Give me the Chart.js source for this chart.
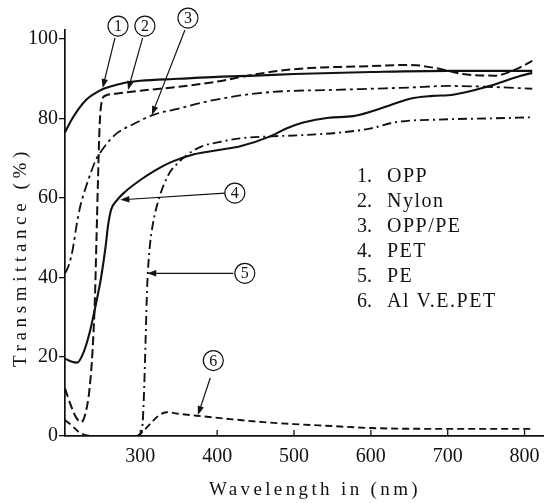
<!DOCTYPE html>
<html>
<head>
<meta charset="utf-8">
<script src="https://cdn.jsdelivr.net/npm/chart.js@4.4.1/dist/chart.umd.min.js"></script>
<style>
  html, body { margin: 0; padding: 0; background: #fff; }
  #wrap { width: 553px; height: 503px; position: relative; }
</style>
</head>
<body>
<div id="wrap"><canvas id="chart"></canvas></div>
<script>
// tick values
const xTicks = [300, 400, 500, 600, 700, 800];
const yTicks = [0, 20, 40, 60, 80, 100];

// 1. OPP
const oppNm = [202, 210, 220, 230, 240, 250, 260, 280, 300, 350, 400, 450, 500, 600, 700, 810];
const oppT = [76.5, 79.5, 82.5, 84.8, 86.2, 87.3, 88, 89, 89.5, 90, 90.5, 90.8, 91.2, 91.7, 92, 92];

// 2. Nylon
const nylonNm = [202, 210, 217, 223, 229, 234, 238, 241, 243, 245, 247, 250, 255, 270, 300, 350, 400, 440, 480, 520, 560, 600, 650, 690, 720, 760, 790, 810];
const nylonT = [12, 7.5, 4.5, 3.5, 6, 12, 22, 35, 50, 65, 78, 84.5, 85.8, 86.3, 87, 88, 89.3, 90.8, 92, 92.7, 93, 93.2, 93.5, 92.5, 91.2, 90.8, 92.5, 94.5];

// 3. OPP/PE
const oppPeNm = [202, 207, 212, 217, 222, 228, 235, 242, 250, 260, 271, 290, 318, 350, 380, 430, 480, 550, 600, 650, 700, 750, 810];
const oppPeT = [41, 43, 47, 53, 58, 62, 66, 69.5, 72, 74.5, 76.5, 78.5, 81, 82.5, 84, 85.8, 86.8, 87.2, 87.5, 87.8, 88.2, 88, 87.5];

// 4. PET
const petNm = [202, 210, 218, 226, 234, 242, 249, 255, 258, 262, 270, 280, 300, 320, 340, 370, 400, 430, 469, 490, 512, 545, 577, 620, 651, 680, 707, 751, 794, 810];
const petT = [19.5, 18.8, 18.5, 21, 26, 33, 40, 48, 53, 57, 59.5, 61.5, 64.5, 67, 69, 71, 72, 73, 75.5, 77.5, 79, 80.2, 80.6, 83, 85, 85.7, 86, 88, 90.7, 91.5];

// 5. PE
const peNm = [295, 300, 303, 305, 307, 309, 312, 316, 323, 336, 350, 362, 380, 401, 430, 470, 510, 557, 600, 630, 700, 750, 810];
const peT = [0, 0.5, 3, 12, 25, 38, 47, 53, 59, 65.6, 69, 71, 73, 74, 75, 75.5, 75.8, 76.4, 77.5, 79, 79.8, 80, 80.3];

// 6. Al V.E. PET
const alNm = [202, 210, 220, 228, 240, 295, 305, 315, 325, 334, 350, 379, 420, 460, 500, 550, 600, 700, 810];
const alT = [4, 2.8, 1, 0.3, 0, 0, 1.5, 3.5, 5.3, 6, 5.6, 5, 4.2, 3.5, 3, 2.5, 2, 1.8, 1.8];

const legendNames = ["OPP", "Nylon", "OPP/PE", "PET", "PE", "Al V.E.PET"];

// callout circles and arrows, in data units (nm, %)
const calloutCircle = [[271, 103.3], [306, 103.3], [362, 105.3], [423, 61.2], [436, 41], [395, 19]];
const calloutFrom = [[267, 100.3], [303, 100.3], [358, 102.3], [410, 61.2], [421, 41], [391, 14.6]];
const calloutTo = [[251, 87.7], [284, 87.2], [315, 80.9], [274, 59.5], [309, 41], [375, 5.3]];

const serif = "'Liberation Serif', 'Times New Roman', serif";
const ink = "#111";

function pts(nm, t) {
  return nm.map((x, i) => ({ x: x, y: t[i] }));
}

function line(label, nm, t, dash, width) {
  return {
    label: label,
    data: pts(nm, t),
    borderColor: ink,
    borderWidth: width,
    borderDash: dash,
    pointRadius: 0,
    showLine: true,
    fill: false,
    cubicInterpolationMode: "monotone",
  };
}

function spaced(ctx, s, x, y, width) {
  ctx.letterSpacing = "0px";
  const w = ctx.measureText(s).width;
  ctx.letterSpacing = (width - w) / s.length + "px";
  ctx.fillText(s, x, y);
  ctx.letterSpacing = "0px";
}

function arrow(ctx, x1, y1, x2, y2) {
  const ang = Math.atan2(y2 - y1, x2 - x1);
  const len = 9;
  ctx.beginPath();
  ctx.moveTo(x1, y1);
  ctx.lineTo(x2 - Math.cos(ang) * len * 0.6, y2 - Math.sin(ang) * len * 0.6);
  ctx.stroke();
  ctx.beginPath();
  ctx.moveTo(x2, y2);
  ctx.lineTo(x2 - Math.cos(ang) * len + Math.sin(ang) * 3.2, y2 - Math.sin(ang) * len - Math.cos(ang) * 3.2);
  ctx.lineTo(x2 - Math.cos(ang) * len - Math.sin(ang) * 3.2, y2 - Math.sin(ang) * len + Math.cos(ang) * 3.2);
  ctx.closePath();
  ctx.fill();
}

const inkPlugin = {
  id: "ink",
  afterDraw(chart) {
    const { ctx, chartArea: a, scales: { x, y } } = chart;
    ctx.save();
    ctx.strokeStyle = ink;
    ctx.fillStyle = ink;

    // inward ticks on the wavelength axis
    ctx.lineWidth = 1.3;
    xTicks.forEach((v) => {
      const px = x.getPixelForValue(v);
      ctx.beginPath();
      ctx.moveTo(px, a.bottom);
      ctx.lineTo(px, a.bottom - 6);
      ctx.stroke();
    });

    // numbered callouts
    ctx.lineWidth = 1.2;
    calloutCircle.forEach((c, i) => {
      const cx = x.getPixelForValue(c[0]);
      const cy = y.getPixelForValue(c[1]);
      ctx.beginPath();
      ctx.arc(cx, cy, 10, 0, Math.PI * 2);
      ctx.stroke();
      ctx.font = "16px " + serif;
      ctx.textAlign = "center";
      ctx.textBaseline = "middle";
      ctx.fillText(String(i + 1), cx, cy + 1);
      const f = calloutFrom[i];
      const t = calloutTo[i];
      arrow(ctx, x.getPixelForValue(f[0]), y.getPixelForValue(f[1]),
        x.getPixelForValue(t[0]), y.getPixelForValue(t[1]));
    });

    // legend block
    ctx.textAlign = "left";
    ctx.textBaseline = "alphabetic";
    ctx.font = "20px " + serif;
    legendNames.forEach((name, i) => {
      const by = 182 + i * 25;
      ctx.letterSpacing = "0px";
      ctx.fillText((i + 1) + ".", 357, by);
      ctx.letterSpacing = "1.5px";
      ctx.fillText(name, 387, by);
    });
    ctx.letterSpacing = "0px";

    // axis titles
    ctx.font = "19px " + serif;
    spaced(ctx, "Wavelength in (nm)", 209, 495, 212);
    ctx.translate(26, 367);
    ctx.rotate(-Math.PI / 2);
    spaced(ctx, "Transmittance (%)", 0, 0, 220);
    ctx.restore();
  },
};

new Chart(document.getElementById("chart"), {
  type: "scatter",
  data: {
    datasets: [
      line("OPP", oppNm, oppT, [], 2.1),
      line("Nylon", nylonNm, nylonT, [9, 4], 2),
      line("OPP/PE", oppPeNm, oppPeT, [10, 4, 3, 4], 1.8),
      line("PET", petNm, petT, [], 2.1),
      line("PE", peNm, peT, [9, 4, 2, 4], 1.9),
      line("Al V.E.PET", alNm, alT, [7, 4], 1.9),
    ],
  },
  plugins: [inkPlugin],
  options: {
    responsive: true,
    maintainAspectRatio: false,
    animation: false,
    layout: { padding: { top: 30, right: 10, left: 0, bottom: 0 } },
    plugins: {
      legend: { display: false },
      tooltip: { enabled: false },
    },
    scales: {
      x: {
        type: "linear",
        min: 202,
        max: 824,
        afterBuildTicks: (scale) => {
          scale.ticks = xTicks.map((v) => ({ value: v }));
        },
        afterFit: (scale) => {
          scale.height = 67;
        },
        grid: { display: false, drawTicks: false },
        border: { display: true, color: ink, width: 1.7 },
        ticks: {
          color: ink,
          padding: 9,
          maxRotation: 0,
          font: { family: serif, size: 20 },
        },
      },
      y: {
        min: 0,
        max: 102.3,
        afterBuildTicks: (scale) => {
          scale.ticks = yTicks.map((v) => ({ value: v }));
        },
        afterFit: (scale) => {
          scale.width = 65;
        },
        grid: {
          display: true,
          drawOnChartArea: false,
          drawTicks: true,
          tickLength: 6,
          color: ink,
          lineWidth: 1.3,
        },
        border: { display: true, color: ink, width: 1.7 },
        ticks: {
          color: ink,
          padding: 1,
          font: { family: serif, size: 20 },
        },
      },
    },
  },
});
</script>
</body>
</html>
